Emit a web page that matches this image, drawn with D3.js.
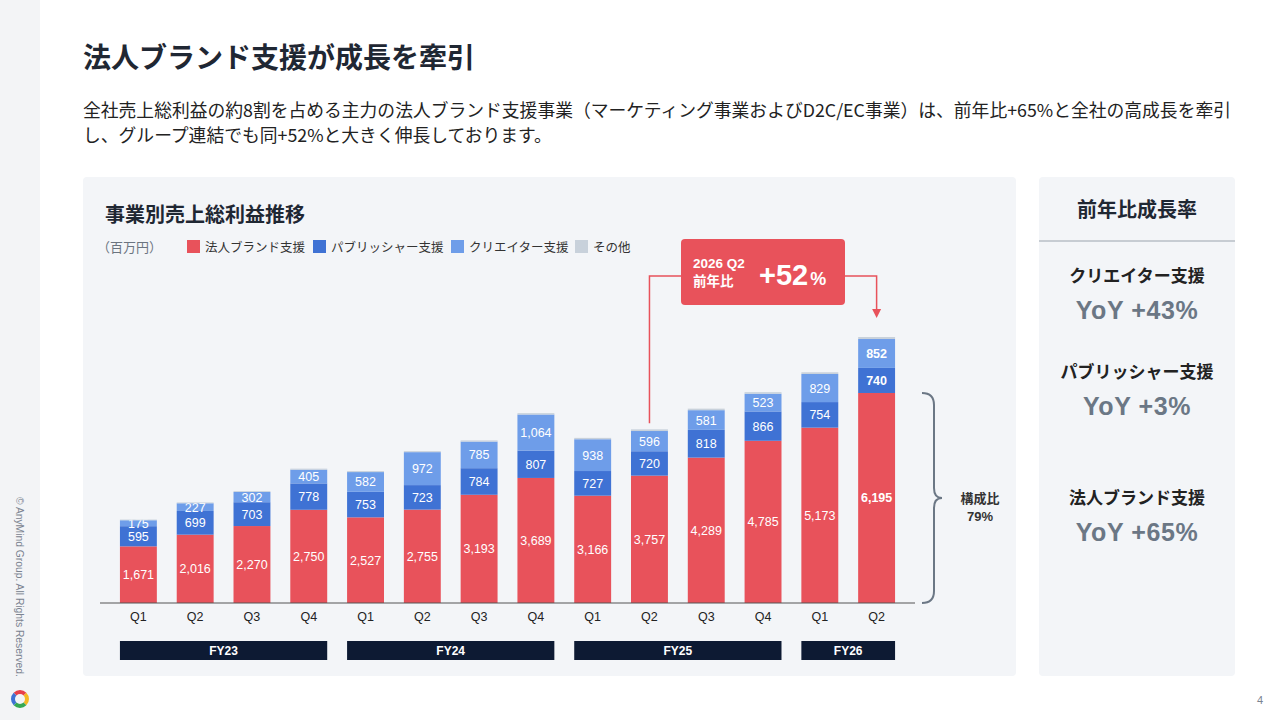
<!DOCTYPE html>
<html>
<head>
<meta charset="utf-8">
<script src="https://cdn.jsdelivr.net/npm/d3@7"></script>
<style>
  html, body { margin: 0; padding: 0; background: #fff; }
  svg { display: block; }
</style>
</head>
<body>
<div id="content"></div>
<script>
// Data (百万円)
var quarters = ["Q1","Q2","Q3","Q4","Q1","Q2","Q3","Q4","Q1","Q2","Q3","Q4","Q1","Q2"];
var years = ["FY23","FY23","FY23","FY23","FY24","FY24","FY24","FY24","FY25","FY25","FY25","FY25","FY26","FY26"];
var fiscalYears = ["FY23","FY24","FY25","FY26"];
var brand = [1671,2016,2270,2750,2527,2755,3193,3689,3166,3757,4289,4785,5173,6195];
var publisher = [595,699,703,778,753,723,784,807,727,720,818,866,754,740];
var creator = [175,227,302,405,582,972,785,1064,938,596,581,523,829,852];
var other = [20,25,25,30,30,30,35,40,40,50,45,45,50,60];

var seriesNames = ["法人ブランド支援","パブリッシャー支援","クリエイター支援","その他"];
var seriesKeys = ["brand","publisher","creator","other"];
var yoyNames = ["クリエイター支援","パブリッシャー支援","法人ブランド支援"];
var yoyValues = ["+43%","+3%","+65%"];

const colors = {
  "brand": "#E8525B",
  "publisher": "#3F72D4",
  "creator": "#6E9DE9",
  "other": "#C8D1DB"
};

var W = 1280, H = 720;
var jp = "'Noto Sans CJK JP', 'Noto Sans', sans-serif";
var num = "'Liberation Sans', Arial, sans-serif";
var dark = "#1f2733";

var svg = d3.select("#content").append("svg")
  .attr("width", W).attr("height", H);

// Left strip
svg.append("rect").attr("x", 0).attr("y", 0).attr("width", 40).attr("height", H).attr("fill", "#f3f4f6");
svg.append("text")
  .attr("transform", "translate(16,497) rotate(90)")
  .attr("font-family", num).attr("font-size", 10.3).attr("fill", "#7b8390")
  .text("© AnyMind Group. All Rights Reserved.");

// Logo ring
var logoArc = d3.arc().innerRadius(5).outerRadius(9);
var logoCols = ["#E8404A", "#F5B823", "#36A852", "#3F72D4"];
var lg = svg.append("g").attr("transform", "translate(20,699)");
logoCols.forEach(function(c, i) {
  lg.append("path")
    .attr("d", logoArc({startAngle: -Math.PI/4 + i*Math.PI/2, endAngle: Math.PI/4 + i*Math.PI/2}))
    .attr("fill", c);
});

// Page number
svg.append("text").attr("x", 1260).attr("y", 704).attr("text-anchor", "middle")
  .attr("font-family", num).attr("font-size", 11).attr("fill", "#7b8390").text("4");

// Title
svg.append("text").attr("x", 83).attr("y", 68)
  .attr("font-family", jp).attr("font-size", 28).attr("font-weight", "bold").attr("fill", dark)
  .text("法人ブランド支援が成長を牽引");

var sub = ["全社売上総利益の約8割を占める主力の法人ブランド支援事業（マーケティング事業およびD2C/EC事業）は、前年比+65%と全社の高成長を牽引",
           "し、グループ連結でも同+52%と大きく伸長しております。"];
svg.selectAll(".sub").data(sub).enter().append("text")
  .attr("x", 83).attr("y", function(d, i) { return 117 + i*25; })
  .attr("font-family", jp).attr("font-size", 17.8).attr("fill", "#222")
  .text(function(d) { return d; });

// Cards
svg.append("rect").attr("x", 83).attr("y", 177).attr("width", 933).attr("height", 499)
  .attr("rx", 4).attr("fill", "#f3f5f8");
svg.append("rect").attr("x", 1039).attr("y", 177).attr("width", 196).attr("height", 499)
  .attr("rx", 4).attr("fill", "#f3f5f8");

// Chart title + legend
svg.append("text").attr("x", 105).attr("y", 222)
  .attr("font-family", jp).attr("font-size", 20).attr("font-weight", "bold").attr("fill", dark)
  .text("事業別売上総利益推移");
svg.append("text").attr("x", 97).attr("y", 252)
  .attr("font-family", jp).attr("font-size", 13).attr("fill", "#6b7480").text("（百万円）");
var legX = [187, 313, 451, 575];
seriesKeys.forEach(function(k, i) {
  svg.append("rect").attr("x", legX[i]).attr("y", 240).attr("width", 13).attr("height", 13)
    .attr("fill", colors[k]);
  svg.append("text").attr("x", legX[i] + 18).attr("y", 252)
    .attr("font-family", jp).attr("font-size", 12.5).attr("fill", "#333").text(seriesNames[i]);
});

// Scales
var base = 603;
var x = d3.scaleBand().domain(d3.range(quarters.length)).range([110, 905]).paddingInner(0.35).paddingOuter(0.175);
var y = d3.scaleLinear().domain([0, 8000]).range([base, base - 271.2]);

var rows = quarters.map(function(q, i) {
  return {i: i, brand: brand[i], publisher: publisher[i], creator: creator[i], other: other[i]};
});
var stacked = d3.stack().keys(seriesKeys)(rows);

var g = svg.append("g");
stacked.forEach(function(layer) {
  g.selectAll(".b-" + layer.key).data(layer).enter().append("rect")
    .attr("x", function(d) { return x(d.data.i); })
    .attr("width", x.bandwidth())
    .attr("y", function(d) { return y(d[1]); })
    .attr("height", function(d) { return y(d[0]) - y(d[1]); })
    .attr("fill", colors[layer.key]);
  if (layer.key == "other") return;
  g.selectAll(".l-" + layer.key).data(layer).enter().append("text")
    .attr("x", function(d) { return x(d.data.i) + x.bandwidth()/2; })
    .attr("y", function(d) { return (y(d[0]) + y(d[1]))/2; })
    .attr("dy", "0.36em")
    .attr("text-anchor", "middle")
    .attr("font-family", num).attr("font-size", 12.5)
    .attr("font-weight", function(d) { return d.data.i == quarters.length - 1 ? "bold" : "normal"; })
    .attr("fill", "#fff")
    .text(function(d) { return d3.format(",")(d[1] - d[0]); });
});

// Baseline + quarter axis
svg.append("line").attr("x1", 100).attr("x2", 915).attr("y1", base).attr("y2", base)
  .attr("stroke", "#555").attr("stroke-width", 1.2);
var xAxis = d3.axisBottom(x).tickSize(0).tickPadding(9).tickFormat(function(i) { return quarters[i]; });
var ax = svg.append("g").attr("transform", "translate(0," + base + ")").call(xAxis);
ax.select(".domain").remove();
ax.selectAll("text").attr("font-family", num).attr("font-size", 12.5).attr("fill", "#222");

// Fiscal year bars
fiscalYears.forEach(function(fy) {
  var idx = d3.range(years.length).filter(function(i) { return years[i] == fy; });
  var x0 = x(idx[0]), x1 = x(idx[idx.length - 1]) + x.bandwidth();
  svg.append("rect").attr("x", x0).attr("y", 641).attr("width", x1 - x0).attr("height", 19)
    .attr("fill", "#0d1a33");
  svg.append("text").attr("x", (x0 + x1)/2).attr("y", 655).attr("text-anchor", "middle")
    .attr("font-family", num).attr("font-size", 12).attr("font-weight", "bold").attr("fill", "#fff")
    .text(fy);
});

// Callout
var last = quarters.length - 1, prev = last - 4;
var red = colors.brand;
var lx = x(prev) + x.bandwidth()/2, rx = x(last) + x.bandwidth()/2;
var topPrev = y(brand[prev] + publisher[prev] + creator[prev] + other[prev]);
var topLast = y(brand[last] + publisher[last] + creator[last] + other[last]);
svg.append("path")
  .attr("d", "M681,276 H" + lx + " V" + (topPrev - 6))
  .attr("fill", "none").attr("stroke", red).attr("stroke-width", 1.5);
svg.append("path")
  .attr("d", "M845,276 H" + rx + " V" + (topLast - 27))
  .attr("fill", "none").attr("stroke", red).attr("stroke-width", 1.5);
svg.append("path")
  .attr("d", "M" + (rx - 4.5) + "," + (topLast - 28) + " L" + (rx + 4.5) + "," + (topLast - 28) + " L" + rx + "," + (topLast - 19) + " Z")
  .attr("fill", red);
svg.append("rect").attr("x", 681).attr("y", 239).attr("width", 164).attr("height", 66).attr("rx", 4)
  .attr("fill", red);
svg.append("text").attr("x", 693).attr("y", 268)
  .attr("font-family", num).attr("font-size", 13.5).attr("font-weight", "bold").attr("fill", "#fff").text("2026 Q2");
svg.append("text").attr("x", 693).attr("y", 286)
  .attr("font-family", jp).attr("font-size", 13.5).attr("font-weight", "bold").attr("fill", "#fff").text("前年比");
var big = svg.append("text").attr("x", 759).attr("y", 285)
  .attr("font-family", num).attr("font-weight", "bold").attr("fill", "#fff");
big.append("tspan").attr("font-size", 29).text("+52");
big.append("tspan").attr("font-size", 18).attr("dx", 2).text("%");

// Brace for share of brand support
var bt = y(brand[last]), bb = base, bm = (bt + bb)/2;
svg.append("path")
  .attr("d", "M922," + bt + " Q934," + bt + " 934," + (bt + 12) +
             " V" + (bm - 10) + " Q934," + bm + " 942," + bm +
             " Q934," + bm + " 934," + (bm + 10) +
             " V" + (bb - 12) + " Q934," + bb + " 922," + bb)
  .attr("fill", "none").attr("stroke", "#6b7785").attr("stroke-width", 2);
svg.append("text").attr("x", 980).attr("y", 503).attr("text-anchor", "middle")
  .attr("font-family", jp).attr("font-size", 13).attr("font-weight", "bold").attr("fill", "#333").text("構成比");
svg.append("text").attr("x", 980).attr("y", 521).attr("text-anchor", "middle")
  .attr("font-family", num).attr("font-size", 13).attr("font-weight", "bold").attr("fill", "#333").text("79%");

// Right panel
svg.append("text").attr("x", 1137).attr("y", 217).attr("text-anchor", "middle")
  .attr("font-family", jp).attr("font-size", 20).attr("font-weight", "bold").attr("fill", dark).text("前年比成長率");
svg.append("line").attr("x1", 1039).attr("x2", 1235).attr("y1", 241).attr("y2", 241)
  .attr("stroke", "#9aa3ad").attr("stroke-width", 1);
var nameY = [282, 378, 504];
yoyNames.forEach(function(n, i) {
  svg.append("text").attr("x", 1137).attr("y", nameY[i]).attr("text-anchor", "middle")
    .attr("font-family", jp).attr("font-size", 17).attr("font-weight", "bold").attr("fill", "#222").text(n);
  svg.append("text").attr("x", 1137).attr("y", nameY[i] + 37).attr("text-anchor", "middle")
    .attr("font-family", num).attr("font-size", 25).attr("font-weight", "bold").attr("fill", "#6b7785")
    .attr("letter-spacing", 0.6)
    .text("YoY " + yoyValues[i]);
});
</script>
</body>
</html>
